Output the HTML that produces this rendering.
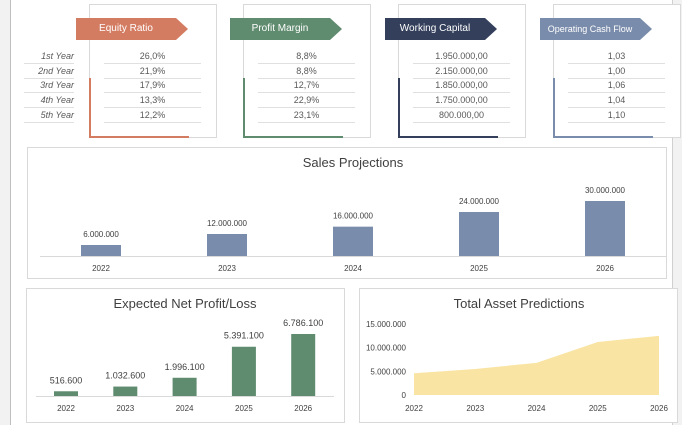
<!DOCTYPE html>
<html><head><meta charset="utf-8"><style>
body{margin:0;width:682px;height:425px;background:#fff;font-family:"Liberation Sans",sans-serif;position:relative;overflow:hidden}
.abs{position:absolute}
.box{position:absolute;border:1px solid #d9d9d9;background:#fff}
.arrow{position:absolute;height:22px;color:#fff;font-size:10px;line-height:22px;text-align:center;white-space:nowrap;overflow:visible}
.val{position:absolute;font-size:9px;color:#595959;text-align:center;border-bottom:1px solid #e0e0e0;height:14px;line-height:14px}
.lab{position:absolute;font-size:9px;color:#595959;font-style:italic;text-align:right;border-bottom:1px solid #e0e0e0;height:14px;line-height:14px;left:24px;width:50px}
svg text{font-family:"Liberation Sans",sans-serif}
</style></head><body>
<div class="abs" style="left:0;top:0;width:10px;height:425px;background:#f2f2f2;border-right:1px solid #bfbfbf"></div>
<div class="abs" style="left:672px;top:0;width:10px;height:425px;background:#f2f2f2;border-left:1px solid #d0d0d0"></div>
<div id="kpis"></div>
<svg id="charts" class="abs" style="left:0;top:0" width="682" height="425"></svg>
<script>
const years=["1st Year","2nd Year","3rd Year","4th Year","5th Year"];
const kpiTitles=["Equity Ratio","Profit Margin","Working Capital","Operating Cash Flow"];
const kpiColors=["#d47c62","#5f8b6f","#333f5b","#7a8cab"];
const equity=["26,0%","21,9%","17,9%","13,3%","12,2%"];
const margin=["8,8%","8,8%","12,7%","22,9%","23,1%"];
const wc=["1.950.000,00","2.150.000,00","1.850.000,00","1.750.000,00","800.000,00"];
const ocf=["1,03","1,00","1,06","1,04","1,10"];
const kpiVals=[equity,margin,wc,ocf];
const boxX=[89,243,398,553];
const k=document.getElementById('kpis');
let h='';
years.forEach((y,i)=>{h+=`<div class="lab" style="top:${49+i*14.7}px">${y}</div>`});
kpiTitles.forEach((t,j)=>{
 const x=boxX[j],c=kpiColors[j];
 h+=`<div class="box" style="left:${x}px;top:4px;width:126px;height:132px"></div>`;
 h+=`<div class="abs" style="left:${x}px;top:78px;width:98px;height:58px;border-left:2px solid ${c};border-bottom:2px solid ${c}"></div>`;
 h+=`<div class="arrow" style="left:${x-13}px;top:18px;width:100px;background:${c};font-size:${t.length>16?9:10}px">${t}</div>`;
 h+=`<div class="abs" style="left:${x+87}px;top:18px;width:0;height:0;border-top:11px solid transparent;border-bottom:11px solid transparent;border-left:12px solid ${c}"></div>`;
 kpiVals[j].forEach((v,i)=>{h+=`<div class="val" style="left:${x+15}px;width:97px;top:${49+i*14.7}px">${v}</div>`});
});
k.innerHTML=h;

const salesYears=["2022","2023","2024","2025","2026"];
const sales=[6000000,12000000,16000000,24000000,30000000];
const salesLabels=["6.000.000","12.000.000","16.000.000","24.000.000","30.000.000"];
const profit=[516600,1032600,1996100,5391100,6786100];
const profitLabels=["516.600","1.032.600","1.996.100","5.391.100","6.786.100"];
const assets=[4600000,5500000,6800000,11200000,12500000];
const assetTicks=[0,5000000,10000000,15000000];
const assetTickLabels=["0","5.000.000","10.000.000","15.000.000"];

const svg=document.getElementById('charts');const NS='http://www.w3.org/2000/svg';
function el(t,a,txt,name){const e=document.createElementNS(NS,t);for(const q in a)e.setAttribute(q,a[q]);if(txt!=null)e.textContent=txt;


svg.appendChild(e);return e;}
// sales
el('rect',{x:27.5,y:147.5,width:639,height:131,fill:'#fff',stroke:'#d9d9d9'},null,'sales-chart-frame');
el('text',{x:353,y:167,'text-anchor':'middle','font-size':13,fill:'#404040'},'Sales Projections','sales-title');
el('line',{x1:40,x2:666,y1:256.5,y2:256.5,stroke:'#d9d9d9'},null,'sales-axis');
const sx=i=>101+i*126, sy=v=>256-v/30000000*55;
sales.forEach((v,i)=>{
 el('rect',{x:sx(i)-20,y:sy(v),width:40,height:256-sy(v),fill:'#7a8cab'},null,'sales-bar');
 el('text',{x:sx(i),y:sy(v)-8,'text-anchor':'middle','font-size':8,fill:'#404040'},salesLabels[i],'sales-value-label');
 el('text',{x:sx(i),y:271,'text-anchor':'middle','font-size':8,fill:'#404040'},salesYears[i],'sales-x-label');
});
// profit
el('rect',{x:26.5,y:288.5,width:318,height:134,fill:'#fff',stroke:'#d9d9d9'},null,'profit-chart-frame');
el('text',{x:185,y:308,'text-anchor':'middle','font-size':13,fill:'#404040'},'Expected Net Profit/Loss','profit-title');
el('line',{x1:36,x2:334,y1:396.5,y2:396.5,stroke:'#d9d9d9'},null,'profit-axis');
const px=i=>66+i*59.3, py=v=>396-v/6786100*62;
profit.forEach((v,i)=>{
 el('rect',{x:px(i)-12,y:py(v),width:24,height:396-py(v),fill:'#5f8b6f'},null,'profit-bar');
 el('text',{x:px(i),y:py(v)-8,'text-anchor':'middle','font-size':9,fill:'#404040'},profitLabels[i],'profit-value-label');
 el('text',{x:px(i),y:411,'text-anchor':'middle','font-size':8,fill:'#404040'},salesYears[i],'profit-x-label');
});
// assets
el('rect',{x:359.5,y:288.5,width:318,height:134,fill:'#fff',stroke:'#d9d9d9'},null,'asset-chart-frame');
el('text',{x:519,y:308,'text-anchor':'middle','font-size':13,fill:'#404040'},'Total Asset Predictions','asset-title');
const ax=i=>414+i*61.25, ay=v=>395-v/15000000*71;
assetTicks.forEach((t,i)=>el('text',{x:406,y:ay(t)+3,'text-anchor':'end','font-size':8,fill:'#404040'},assetTickLabels[i],'asset-y-tick'));
let d=`M${ax(0)},${ay(0)}`;assets.forEach((v,i)=>d+=` L${ax(i)},${ay(v)}`);d+=` L${ax(assets.length-1)},${ay(0)} Z`;
el('path',{d:d,fill:'#f9e4a3'},null,'asset-area');
salesYears.forEach((y,i)=>el('text',{x:ax(i),y:411,'text-anchor':'middle','font-size':8,fill:'#404040'},y,'asset-x-label'));
</script>
</body></html>
